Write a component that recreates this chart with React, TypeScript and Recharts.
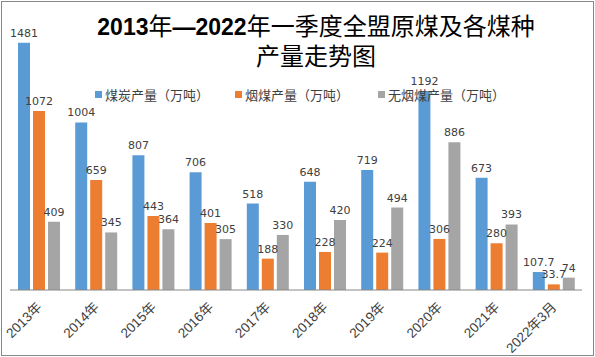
import React from "react";
import { BarChart, Bar, XAxis, YAxis, LabelList } from "recharts";

const years = ["2013年", "2014年", "2015年", "2016年", "2017年", "2018年", "2019年", "2020年", "2021年", "2022年3月"];
const coal = [1481, 1004, 807, 706, 518, 648, 719, 1192, 673, 107.7];
const bituminous = [1072, 659, 443, 401, 188, 228, 224, 306, 280, 33.7];
const anthracite = [409, 345, 364, 305, 330, 420, 494, 886, 393, 74];

const seriesNames = ["煤炭产量（万吨）", "烟煤产量（万吨）", "无烟煤产量（万吨）"];
const colors = ["#5B9BD5", "#ED7D31", "#A5A5A5"];

const data = years.map((name, i) => ({
  name,
  coal: coal[i],
  bituminous: bituminous[i],
  anthracite: anthracite[i],
}));

const labelFont = "'DejaVu Sans', Verdana, sans-serif";
const cjk = "'Noto Sans CJK SC', sans-serif";

const YearTick = ({ x, y, payload }: any) => (
  <text
    x={x + 4}
    y={y + 10}
    textAnchor="end"
    transform={`rotate(-45, ${x + 4}, ${y + 10})`}
    fontSize={13.5}
    fill="#404040"
    fontFamily={`'Liberation Sans', ${cjk}`}
  >
    {payload.value}
  </text>
);

// digits bold latin, chinese regular
const TitleLine = ({ text }: { text: string }) => {
  const parts = text.match(/[0-9—]+|[^0-9—]+/g) || [];
  return (
    <>
      {parts.map((p, i) =>
        /[0-9—]/.test(p) ? (
          <span key={i} style={{ fontFamily: "'Liberation Sans', sans-serif", fontWeight: 700, fontSize: 23 }}>
            {p}
          </span>
        ) : (
          <span key={i} style={{ fontFamily: cjk, fontWeight: 400, fontSize: 24 }}>
            {p}
          </span>
        )
      )}
    </>
  );
};

export default function App() {
  const legendX = [95, 235, 378];
  return (
    <div
      style={{
        position: "absolute",
        left: 0,
        top: 0,
        width: 595,
        height: 357,
        background: "#fff",
      }}
    >
      <div
        style={{
          position: "absolute",
          left: 1,
          top: 1,
          width: 593,
          height: 355,
          boxSizing: "border-box",
          border: "1px solid #888",
        }}
      />
      <BarChart
        width={595}
        height={357}
        data={data}
        margin={{ top: 23, right: 13, left: 10, bottom: 0 }}
        barCategoryGap="14%"
        barGap={3}
      >
        <YAxis hide domain={[0, 1600]} />
        <XAxis
          dataKey="name"
          height={67}
          interval={0}
          axisLine={{ stroke: "#888" }}
          tickLine={false}
          tick={<YearTick />}
        />
        <Bar dataKey="coal" fill={colors[0]} isAnimationActive={false}>
          <LabelList dataKey="coal" position="top" offset={6} fill="#404040" fontSize={11} fontFamily={labelFont} />
        </Bar>
        <Bar dataKey="bituminous" fill={colors[1]} isAnimationActive={false}>
          <LabelList dataKey="bituminous" position="top" offset={6} fill="#404040" fontSize={11} fontFamily={labelFont} />
        </Bar>
        <Bar dataKey="anthracite" fill={colors[2]} isAnimationActive={false}>
          <LabelList dataKey="anthracite" position="top" offset={6} fill="#404040" fontSize={11} fontFamily={labelFont} />
        </Bar>
      </BarChart>
      {["2013年—2022年一季度全盟原煤及各煤种", "产量走势图"].map((t, i) => (
        <div
          key={t}
          style={{
            position: "absolute",
            left: 0,
            top: i === 0 ? 12 : 42,
            width: 632,
            textAlign: "center",
            lineHeight: "26px",
            height: 26,
            color: "#000",
            whiteSpace: "nowrap",
          }}
        >
          <TitleLine text={t} />
        </div>
      ))}
      {seriesNames.map((n, i) => (
        <div
          key={n}
          style={{
            position: "absolute",
            left: legendX[i],
            top: 85,
            display: "flex",
            alignItems: "center",
            fontFamily: cjk,
            fontSize: 13,
            color: "#404040",
            whiteSpace: "nowrap",
          }}
        >
          <span style={{ width: 7, height: 7, background: colors[i], marginRight: 3, display: "inline-block" }} />
          {n}
        </div>
      ))}
    </div>
  );
}
